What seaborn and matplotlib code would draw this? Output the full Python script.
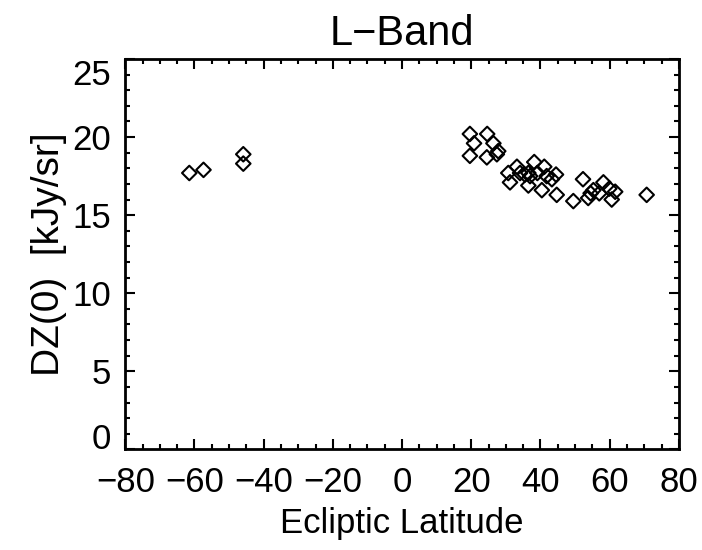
#!/usr/bin/env python

import matplotlib
matplotlib.use("Agg")
import matplotlib.pyplot as plt
import pandas as pd
import seaborn as sns

# ecliptic latitude (deg) and DZ(0) (kJy/sr)
latitude = [-61.5, -57.4, -45.9, -45.9,
            19.6, 24.6, 20.8, 26.4, 27.8, 19.6, 24.5, 27.4,
            33.2, 38.2, 41.1, 30.7, 34.1, 36.5, 37.0, 39.1,
            41.8, 44.5, 43.3, 31.2, 36.5, 40.4, 44.7, 49.5,
            52.3, 53.8, 54.5, 55.3, 57.0, 58.2, 59.9, 61.6,
            60.6, 70.7, 35.5]
dz0 = [17.7, 17.9, 18.9, 18.3,
       20.2, 20.2, 19.6, 19.6, 19.1, 18.8, 18.7, 18.9,
       18.1, 18.4, 18.1, 17.7, 17.7, 17.7, 17.5, 17.7,
       17.5, 17.6, 17.3, 17.1, 16.9, 16.6, 16.3, 15.9,
       17.3, 16.1, 16.4, 16.6, 16.4, 17.1, 16.7, 16.5,
       16.0, 16.3, 17.6]

x_ticks = [-80, -60, -40, -20, 0, 20, 40, 60, 80]
y_ticks = [0, 5, 10, 15, 20, 25]


def make_plot(df):
    sns.set_style("ticks")
    plt.rcParams["font.family"] = ["Liberation Sans", "DejaVu Sans"]
    plt.rcParams["text.color"] = "black"
    plt.rcParams["axes.labelcolor"] = "black"
    fig = plt.figure(figsize=(7.02, 5.5), dpi=100)
    ax = fig.add_axes([0.1785, 0.183, 0.7885, 0.7097])

    sns.scatterplot(data=df, x="lat", y="dz", marker="D", s=55,
                    facecolors="none", edgecolor="black", linewidth=1.5, ax=ax)

    ax.set_xlim(-80, 80)
    ax.set_ylim(0, 25)
    ax.set_xticks(x_ticks)
    ax.set_yticks(y_ticks)
    ax.set_xticklabels([str(t).replace("-", "\u2212") for t in x_ticks])
    ax.set_yticklabels([str(t) for t in y_ticks])
    ax.xaxis.set_minor_locator(matplotlib.ticker.MultipleLocator(5))
    ax.yaxis.set_minor_locator(matplotlib.ticker.MultipleLocator(1))
    ax.tick_params(which="both", direction="in", top=True, right=True,
                   width=1.5, colors="black")
    ax.tick_params(which="major", length=7, labelsize=25)
    ax.tick_params(axis="x", which="major", pad=12)
    ax.tick_params(axis="y", which="major", pad=10)
    ax.tick_params(which="minor", length=3.5)
    ax.tick_params(right=True, top=True, labelright=False, labeltop=False)
    for sp in ax.spines.values():
        sp.set_linewidth(2)
        sp.set_color("black")

    labels = ax.get_yticklabels()
    labels[0].set_va("baseline")
    labels[-1].set_va("top")

    ax.set_title("L\u2212Band", fontsize=30, pad=10, color="black")
    ax.set_xlabel("Ecliptic Latitude", fontsize=25, labelpad=6)
    ax.set_ylabel("DZ(0)  [kJy/sr]", fontsize=28, labelpad=4)
    fig.savefig("out.png", dpi=100)


def main():
    df = pd.DataFrame({"lat": latitude, "dz": dz0})
    make_plot(df)


if __name__ == "__main__":
    main()
